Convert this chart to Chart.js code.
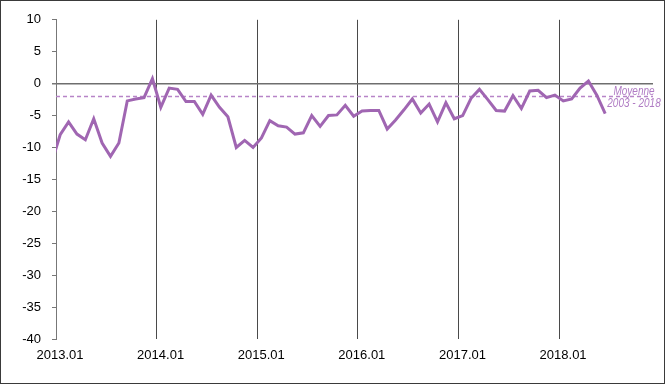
<!DOCTYPE html>
<html>
<head>
<meta charset="utf-8">
<script src="https://cdn.jsdelivr.net/npm/chart.js@4.4.1/dist/chart.umd.min.js"></script>
<style>
  html, body { margin: 0; padding: 0; background: #fff; }
  #frame { width: 663px; height: 382px; border: 1px solid #3a3a3a; }
</style>
</head>
<body>
<div id="frame"><canvas id="chart" width="663" height="382"></canvas></div>
<script>
// tick labels on the x axis (one per January)
const yearTicks = ["2013.01", "2014.01", "2015.01", "2016.01", "2017.01", "2018.01"];

// monthly values, first one is 2012.12 (cut off by the y axis), last one 2018.06
const firstIndex = -1;
const balance = [
  -12.3,
  -8.0, -6.0, -7.9, -8.8, -5.5, -9.3, -11.4, -9.3, -2.7, -2.4, -2.2, 0.8,
  -3.7, -0.7, -0.9, -2.8, -2.8, -4.8, -1.8, -3.7, -5.2, -10.0, -8.9, -10.0,
  -8.5, -5.8, -6.6, -6.8, -7.9, -7.7, -5.0, -6.7, -5.0, -4.9, -3.4, -5.1,
  -4.3, -4.2, -4.2, -7.1, -5.7, -4.1, -2.4, -4.6, -3.2, -6.0, -3.0, -5.5,
  -5.0, -2.3, -0.9, -2.5, -4.2, -4.3, -1.9, -3.9, -1.15, -1.05, -2.2, -1.8,
  -2.7, -2.4, -0.7, 0.4, -1.8, -4.7
];

// long term average 2003 - 2018
const average = -2.0;
const averageLabel = ["Moyenne", "2003 - 2018"];

const xMin = -0.5;
const xMax = 70.7;

const balancePoints = balance.map((v, k) => ({ x: firstIndex + k, y: v }));
const averagePoints = [{ x: xMin, y: average }, { x: xMax, y: average }];

// label next to the dashed average line (squeezed, the original uses a narrow font)
const averageLabelPlugin = {
  id: "averageLabel",
  afterDatasetsDraw(chart) {
    const ctx = chart.ctx;
    const y = chart.scales.y.getPixelForValue(average);
    const x = chart.chartArea.right - 19;
    ctx.save();
    ctx.translate(x, y);
    ctx.scale(0.77, 1);
    ctx.fillStyle = "#b07cc4";
    ctx.font = "italic 13px 'Liberation Sans', Arial, sans-serif";
    ctx.textAlign = "center";
    ctx.textBaseline = "middle";
    ctx.fillText(averageLabel[0], 0, -5.5);
    ctx.fillText(averageLabel[1], 0, 7);
    ctx.restore();
  },
};

Chart.defaults.font.family = "'Liberation Sans', Arial, sans-serif";
Chart.defaults.font.size = 13;
Chart.defaults.color = "#000";

const chartCtx = document.getElementById("chart").getContext("2d");

const balanceChart = new Chart(chartCtx, {
  type: "line",
  data: {
    datasets: [
      {
        data: balancePoints,
        borderColor: "#a066b2",
        borderWidth: 3,
        pointRadius: 0,
        tension: 0,
        fill: false,
        clip: 0,
      },
      {
        data: averagePoints,
        borderColor: "#b784c8",
        borderWidth: 1.5,
        borderDash: [4, 3],
        pointRadius: 0,
        fill: false,
      },
    ],
  },
  options: {
    responsive: false,
    animation: false,
    layout: {
      padding: { top: 18, right: 11, bottom: 0, left: 0 },
    },
    plugins: {
      legend: { display: false },
      tooltip: { enabled: false },
    },
    scales: {
      x: {
        type: "linear",
        min: xMin,
        max: xMax,
        afterBuildTicks: (scale) => {
          scale.ticks = yearTicks.map((t, k) => ({ value: xMin + 12 * k }));
        },
        afterFit: (scale) => {
          scale.height = 44;
        },
        ticks: {
          callback: (value, index) => yearTicks[index],
          autoSkip: false,
          maxRotation: 0,
          padding: 9,
          labelOffset: 4,
        },
        grid: {
          color: "#4a4a4a",
          lineWidth: 1,
          drawTicks: false,
        },
        border: { display: false },
      },
      y: {
        min: -40,
        max: 10,
        ticks: {
          stepSize: 5,
          padding: 11,
        },
        afterFit: (scale) => {
          scale.width = 55;
        },
        grid: {
          color: (c) => (c.tick && c.tick.value === 0 ? "#6e6e6e" : "rgba(0,0,0,0)"),
          lineWidth: (c) => (c.tick && c.tick.value === 0 ? 1.5 : 1),
          drawTicks: true,
          tickLength: 4,
          tickColor: "#777",
        },
        border: { display: true, color: "#777", width: 1 },
      },
    },
  },
  plugins: [averageLabelPlugin],
});
</script>
</body>
</html>
